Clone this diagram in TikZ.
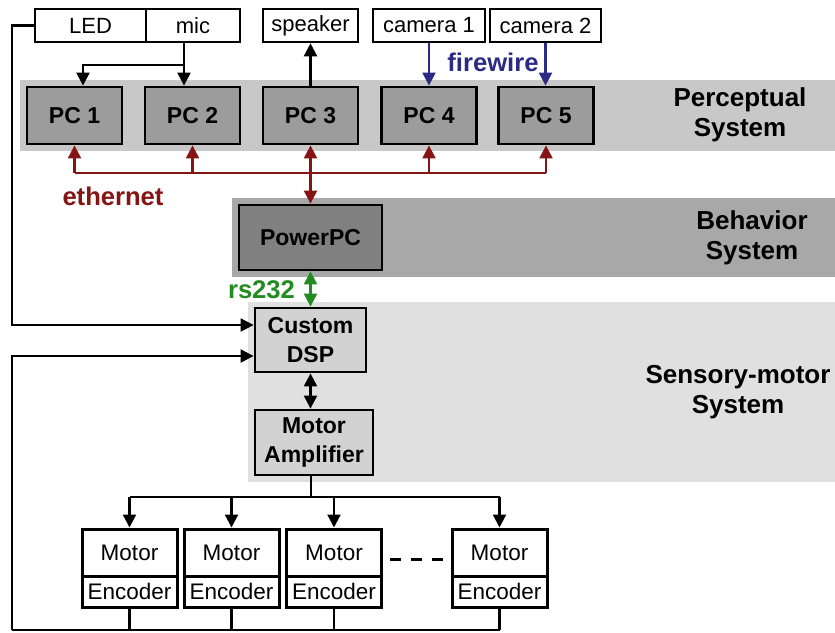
\documentclass[tikz,border=0pt]{standalone}
\usepackage{fontspec}
\setmainfont{Liberation Sans}
\usetikzlibrary{arrows.meta}
\definecolor{bandP}{HTML}{C8C8C8}
\definecolor{bandB}{HTML}{A8A8A8}
\definecolor{bandS}{HTML}{E0E0E0}
\definecolor{pcfill}{HTML}{9C9C9C}
\definecolor{ppcfill}{HTML}{808080}
\definecolor{dspfill}{HTML}{D2D2D2}
\definecolor{ethred}{HTML}{851414}
\definecolor{fwblue}{HTML}{2B2B85}
\definecolor{rsgreen}{HTML}{228B22}
\tikzset{
  tip/.style={-{Triangle[length=13pt,width=13pt]}},
  dtip/.style={{Triangle[length=13pt,width=13pt]}-{Triangle[length=13pt,width=13pt]}},
  conn/.style={line width=2.2pt, black},
  topbox/.style={draw, line width=2.6pt, fill=white, inner sep=0pt, minimum height=33pt,
    font=\fontsize{22}{24}\selectfont},
  pcbox/.style={draw, line width=2.8pt, fill=pcfill, inner sep=0pt, minimum width=95pt, minimum height=57pt,
    font=\fontsize{23}{25}\selectfont\bfseries},
  midbox/.style={draw, line width=2.8pt, inner sep=0pt, align=center,
    font=\fontsize{23}{29}\selectfont\bfseries},
  motbox/.style={draw, line width=3pt, fill=white, inner sep=0pt, minimum width=95pt,
    font=\fontsize{22.5}{25}\selectfont},
  syslabel/.style={align=center, inner sep=0pt, font=\fontsize{26}{30}\selectfont\bfseries},
  connlabel/.style={inner sep=0pt, font=\fontsize{25.6}{28}\selectfont\bfseries},
}
\begin{document}
\begin{tikzpicture}[x=1pt, y=-1pt]
\useasboundingbox (0,0) rectangle (835,632);
\fill[white] (0,0) rectangle (835,632);
% bands
\fill[bandP] (20,80) rectangle (835,151);
\fill[bandB] (232,198) rectangle (835,277);
\fill[bandS] (248,302) rectangle (835,482);
% top boxes
\node[topbox, minimum width=111pt] (led) at (90.5,25.5) {LED};
\node[topbox, minimum width=94pt] (mic) at (193,25.5) {mic};
\node[topbox, minimum width=95pt] (spk) at (310.5,25.5) {speaker};
\node[topbox, minimum width=112pt] (cam1) at (429,25.5) {camera 1};
\node[topbox, minimum width=111pt] (cam2) at (545.5,25.5) {camera 2};
% PCs
\node[pcbox] (pc1) at (74.5,115.5) {PC 1};
\node[pcbox] (pc2) at (192.5,115.5) {PC 2};
\node[pcbox] (pc3) at (310.5,115.5) {PC 3};
\node[pcbox] (pc4) at (429,115.5) {PC 4};
\node[pcbox] (pc5) at (546,115.5) {PC 5};
% middle boxes
\node[midbox, fill=ppcfill, minimum width=143pt, minimum height=65pt] (ppc) at (310.5,237.5) {PowerPC};
\node[midbox, fill=dspfill, minimum width=111pt, minimum height=64pt] (dsp) at (310.5,340) {Custom\\DSP};
\node[midbox, fill=dspfill, minimum width=118pt, minimum height=65pt] (amp) at (314,442.5) {Motor\\Amplifier};
% motors
\node[motbox, minimum height=47pt] (m1) at (129.5,552.5) {Motor};
\node[motbox, minimum height=31pt] (e1) at (129.5,591.5) {Encoder};
\node[motbox, minimum height=47pt] (m2) at (231.5,552.5) {Motor};
\node[motbox, minimum height=31pt] (e2) at (231.5,591.5) {Encoder};
\node[motbox, minimum height=47pt] (m3) at (334,552.5) {Motor};
\node[motbox, minimum height=31pt] (e3) at (334,591.5) {Encoder};
\node[motbox, minimum height=47pt] (m4) at (499.5,552.5) {Motor};
\node[motbox, minimum height=31pt] (e4) at (499.5,591.5) {Encoder};
\draw[line width=3pt, dash pattern=on 11pt off 10pt] (390,559) -- (443,559);
% system labels
\node[syslabel] (lp) at (740,115) {Perceptual\\System};
\node[syslabel] (lb) at (752,238) {Behavior\\System};
\node[syslabel] (ls) at (738,392.5) {Sensory-motor\\System};
% connector labels
\node[connlabel, text=fwblue] (lfw) at (493,62) {firewire};
\node[connlabel, text=ethred] (leth) at (113,196) {ethernet};
\node[connlabel, text=rsgreen] (lrs) at (261.5,290) {rs232};
% mic
\coordinate (micj) at (184,65);
\draw[conn] ([xshift=-9pt]mic.south) -- (micj);
\draw[conn, tip] (micj) -| ([xshift=8.5pt]pc1.north);
\draw[conn, tip] (micj) -- (micj |- pc2.north);
% speaker
\draw[conn, tip] (pc3.north) -- (spk.south);
% firewire
\draw[line width=2.2pt, fwblue, tip] (cam1.south) -- (cam1.south |- pc4.north);
\draw[line width=2.2pt, fwblue, tip] (cam2.south) -- (cam2.south |- pc5.north);
% ethernet
\coordinate (ethy) at (0,173);
\draw[line width=2.2pt, ethred] (pc1.south |- ethy) -- (pc5.south |- ethy);
\draw[line width=2.2pt, ethred, tip] (pc1.south |- ethy) -- (pc1.south);
\draw[line width=2.2pt, ethred, tip] (pc2.south |- ethy) -- (pc2.south);
\draw[line width=2.2pt, ethred, tip] (pc4.south |- ethy) -- (pc4.south);
\draw[line width=2.2pt, ethred, tip] (pc5.south |- ethy) -- (pc5.south);
\draw[line width=2.2pt, ethred, dtip] (pc3.south) -- (ppc.north);
% rs232
\draw[line width=2.2pt, rsgreen, dtip] (ppc.south) -- (dsp.north);
% dsp-amp
\draw[conn, dtip] (dsp.south) -- (dsp.south |- amp.north);
% LED line
\coordinate (ledc) at (12,325);
\draw[conn, tip] (led.west) -| (ledc) -- (ledc -| dsp.west);
% distribution
\coordinate (dist) at (311,497);
\draw[conn] (dist |- amp.south) -- (dist);
\draw[conn] (m1.north |- dist) -- (m4.north |- dist);
\draw[conn, tip] (m1.north |- dist) -- (m1.north);
\draw[conn, tip] (m2.north |- dist) -- (m2.north);
\draw[conn, tip] (m3.north |- dist) -- (m3.north);
\draw[conn, tip] (m4.north |- dist) -- (m4.north);
% feedback
\coordinate (bl) at (12,630);
\coordinate (fb) at (12,356);
\draw[conn] (e1.south) -- (e1.south |- bl);
\draw[conn] (e2.south) -- (e2.south |- bl);
\draw[conn] (e3.south) -- (e3.south |- bl);
\draw[conn] (e4.south) -- (e4.south |- bl);
\draw[conn] (e4.south |- bl) -- (bl);
\draw[conn, tip] (bl) -- (fb) -- (fb -| dsp.west);
\end{tikzpicture}
\end{document}
